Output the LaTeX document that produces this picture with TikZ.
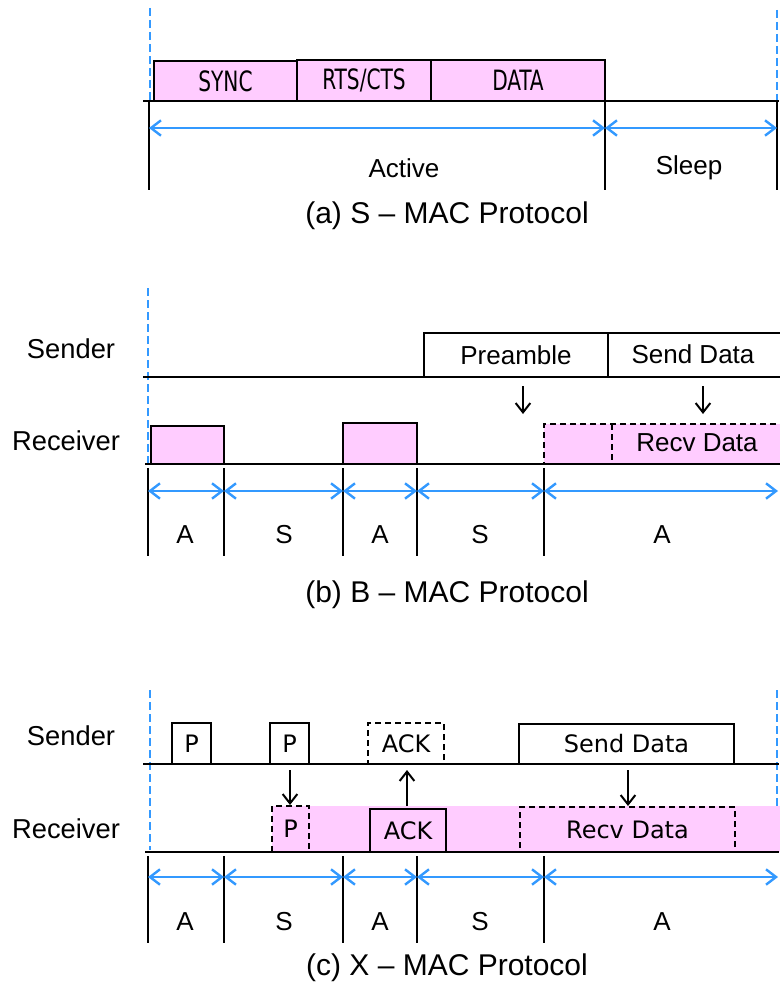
\documentclass[tikz,border=0pt]{standalone}
\usepackage{fontspec}
\setmainfont{Liberation Sans}
\newfontfamily\boxfont{DejaVu Sans}
\newfontfamily\condfont{DejaVu Sans Condensed}
\usetikzlibrary{arrows.meta,fit}
\definecolor{slotpink}{RGB}{255,204,255}
\definecolor{spanblue}{RGB}{51,153,255}
\newcommand\narrowtext[1]{\scalebox{0.8}[1]{#1}}
\tikzset{
  lbl/.style={font=\fontsize{19.5pt}{22pt}\selectfont, inner sep=0pt},
  captext/.style={font=\fontsize{22.5pt}{24pt}\selectfont, inner sep=0pt},
  rowname/.style={font=\fontsize{20.5pt}{22pt}\selectfont, inner sep=0pt},
  slot/.style={draw=black, line width=1.9pt, inner sep=0pt},
  pinkslot/.style={slot, fill=slotpink},
  dslot/.style={slot, dashed, dash pattern=on 4.5pt off 3pt},
  axisline/.style={line width=1.9pt},
  tickline/.style={line width=1.1pt},
  bluedash/.style={draw=spanblue, line width=1.8pt, dash pattern=on 6pt off 3pt},
  spanarrow/.style={draw=spanblue, line width=1.8pt,
    {Straight Barb[length=7.5pt,width=11.5pt,line width=1.8pt]}-{Straight Barb[length=7.5pt,width=11.5pt,line width=1.8pt]}},
  msg/.style={line width=1.5pt, -{Straight Barb[length=7pt,width=11pt,line width=1.5pt]}},
  abox/.style={font=\condfont\fontsize{21pt}{22pt}\selectfont},
  cbox/.style={font=\boxfont\fontsize{18pt}{20pt}\selectfont},
}
\begin{document}
\begin{tikzpicture}[x=0.75pt,y=-0.75pt]
\useasboundingbox (0,0) rectangle (779,984);

% ---------------- (a) S-MAC ----------------
\draw[bluedash] (150,8) -- (150,101);
\draw[bluedash] (777,10) -- (777,101);
\node[pinkslot, fit={(154,61) (297,101)}] (sync) {};
\node[pinkslot, fit={(297,60) (431,101)}] (rts) {};
\node[pinkslot, fit={(431,60) (605,101)}] (data) {};
\node[abox] at (sync) {\narrowtext{SYNC}};
\node[abox] at (rts) {\narrowtext{RTS/CTS}};
\node[abox] at (data) {\narrowtext{DATA}};
\coordinate (a0) at (143,101);
\coordinate (a1) at (779,101);
\draw[axisline] (a0) -- (a1);
\foreach \n/\x in {p0/149,p1/605,p2/777} {
  \coordinate (a\n t) at (\x,101);
  \coordinate (a\n b) at (\x,190);
  \coordinate (a\n m) at (\x,128);
  \draw[tickline] (a\n t) -- (a\n b);
}
\draw[spanarrow] (ap0m) -- (ap1m);
\draw[spanarrow] (ap1m) -- (ap2m);
\node[lbl] (active) at (404,168) {Active};
\node[lbl] (sleep) at (689,168) {Sleep};
\node[captext] (capa) at (447,216) {(a) S -- MAC Protocol};

% ---------------- (b) B-MAC ----------------
\draw[bluedash] (148,288) -- (148,464);
\node[rowname] (bsend) at (71,349) {Sender};
\node[rowname] (brecv) at (66,441) {Receiver};
\coordinate (bs0) at (143,377);
\coordinate (bs1) at (779,377);
\node[slot, fit={(424,333) (608,377)}] (pre) {};
\node[slot, fit={(608,333) (790,377)}] (bsd) {};
\node[lbl] at (pre) {Preamble};
\node[lbl] at (693,354) {Send Data};
\draw[axisline] (bs0) -- (bs1);
\node[pinkslot, fit={(151,426) (224,464)}] (bw1) {};
\node[pinkslot, fit={(343,423) (417,464)}] (bw2) {};
\node[pinkslot, dslot, fit={(544,424) (790,464)}] (brd) {};
\coordinate (bdv0) at (612,424);
\coordinate (bdv1) at (612,464);
\draw[dslot] (bdv0) -- (bdv1);
\node[lbl] at (697,443) {Recv Data};
\coordinate (br0) at (145,464);
\coordinate (br1) at (779,464);
\draw[axisline] (br0) -- (br1);
\coordinate (bm1s) at (523,386);
\coordinate (bm1e) at (523,414);
\coordinate (bm2s) at (703,386);
\coordinate (bm2e) at (703,414);
\draw[msg] (bm1s) -- (bm1e);
\draw[msg] (bm2s) -- (bm2e);
\foreach \n/\x in {0/148,1/224,2/343,3/417,4/544} {
  \coordinate (bt\n) at (\x,468);
  \coordinate (bb\n) at (\x,556);
  \coordinate (bm\n) at (\x,491);
  \draw[tickline] (bt\n) -- (bb\n);
}
\coordinate (bm5) at (778,491);
\foreach \i/\j in {0/1,1/2,2/3,3/4,4/5} \draw[spanarrow] (bm\i) -- (bm\j);
\foreach \x/\t in {185/A,284/S,380/A,480/S,662/A} \node[lbl] at (\x,535) {\t};
\node[captext] (capb) at (447,595) {(b) B -- MAC Protocol};

% ---------------- (c) X-MAC ----------------
\draw[bluedash] (150,690) -- (150,850);
\draw[bluedash] (777,690) -- (777,850);
\node[rowname] (csend) at (71,736) {Sender};
\node[rowname] (crecv) at (66,829) {Receiver};
% receiver awake period
\fill[slotpink] (272,806) rectangle (790,852);
\node[slot, fit={(172,723) (211,764)}] (cp1) {};
\node[slot, fit={(270,723) (309,764)}] (cp2) {};
\node[dslot, fit={(368,723) (444,764)}] (cack) {};
\node[slot, fit={(519,724) (734,764)}] (csd) {};
\node[cbox] at (cp1) {P};
\node[cbox] at (cp2) {P};
\node[cbox] at (cack) {ACK};
\node[cbox] at (csd) {Send Data};
\coordinate (cs0) at (143,764);
\coordinate (cs1) at (779,764);
\draw[axisline] (cs0) -- (cs1);
\node[dslot, fit={(272,806) (309,852)}] (rp) {};
\node[pinkslot, fit={(370,809) (446,852)}] (rack) {};
\node[dslot, fit={(520,807) (735,852)}] (rrd) {};
\node[cbox] at (rp) {P};
\node[cbox] at (rack) {ACK};
\node[cbox] at (rrd) {Recv Data};
\coordinate (cr0) at (145,852);
\coordinate (cr1) at (779,852);
\draw[axisline] (cr0) -- (cr1);
\coordinate (cm1s) at (290,770);
\coordinate (cm1e) at (290,805);
\coordinate (cm2s) at (407,806);
\coordinate (cm2e) at (407,770);
\coordinate (cm3s) at (628,770);
\coordinate (cm3e) at (628,806);
\draw[msg] (cm1s) -- (cm1e);
\draw[msg] (cm2s) -- (cm2e);
\draw[msg] (cm3s) -- (cm3e);
\foreach \n/\x in {0/148,1/224,2/343,3/417,4/544} {
  \coordinate (ct\n) at (\x,856);
  \coordinate (cb\n) at (\x,943);
  \coordinate (cm\n) at (\x,877);
  \draw[tickline] (ct\n) -- (cb\n);
}
\coordinate (cm5) at (778,877);
\foreach \i/\j in {0/1,1/2,2/3,3/4,4/5} \draw[spanarrow] (cm\i) -- (cm\j);
\foreach \x/\t in {185/A,284/S,380/A,480/S,662/A} \node[lbl] at (\x,922) {\t};
\node[captext] (capc) at (447,968) {(c) X -- MAC Protocol};
\end{tikzpicture}
\end{document}
